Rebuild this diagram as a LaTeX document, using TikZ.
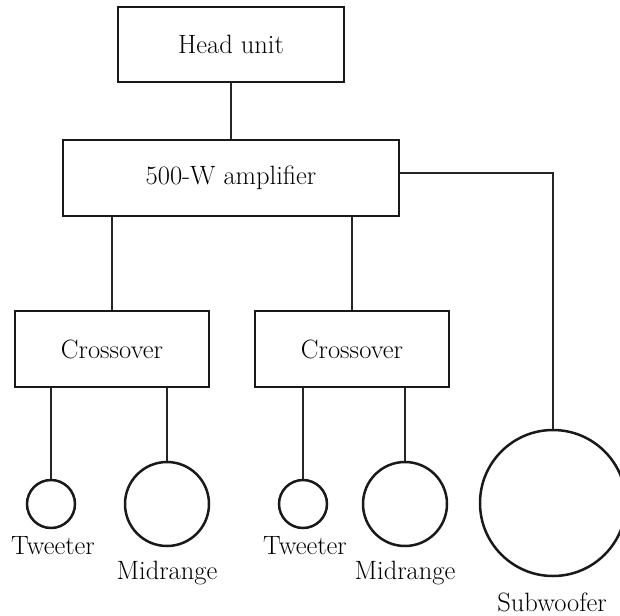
\documentclass[tikz,border=0pt]{standalone}
\usepackage{fontspec}
\begin{document}
\begin{tikzpicture}[x=1pt, y=-1pt,
  every node/.style={font=\fontsize{26.5}{30}\selectfont, text=black},
  box/.style={draw=black!90, line width=2.6pt, rectangle, minimum height=76pt},
  spk/.style={draw=black!90, line width=2.5pt, circle, inner sep=0pt},
  wire/.style={draw=black!85, line width=1.1pt}]
  \useasboundingbox (0,0) rectangle (620,615);
  \node[box, minimum width=226pt, minimum height=75pt] (head) at (231,44.5) {Head unit};
  \node[box, minimum width=336pt] (amp) at (231,178) {500-W amplifier};
  \foreach \k/\x in {1/112, 2/352} {
    \node[box, minimum width=194pt] (cross\k) at (\x,349) {Crossover};
  }
  \foreach \k/\x in {1/51, 2/303} {
    \node[spk, minimum size=48pt] (tw\k) at (\x,504) {};
    \node (twlab\k) at (\x+2,546) {Tweeter};
  }
  \foreach \k/\x in {1/167, 2/405} {
    \node[spk, minimum size=84pt] (mid\k) at (\x,504) {};
    \node (midlab\k) at (\x,573) {Midrange};
  }
  \node[spk, minimum size=146pt] (sub) at (553,503) {};
  \node (sublab) at (552,602) {Subwoofer};
  \draw[wire] (head) -- (amp);
  \foreach \k in {1,2} {
    \draw[wire] (amp.south -| cross\k.north) -- (cross\k.north);
    \draw[wire] (cross\k.south -| tw\k.north) -- (tw\k.north);
    \draw[wire] (cross\k.south -| mid\k.north) -- (mid\k.north);
  }
  \draw[wire] ([yshift=5pt]amp.east) -| (sub.north);
\end{tikzpicture}
\end{document}
